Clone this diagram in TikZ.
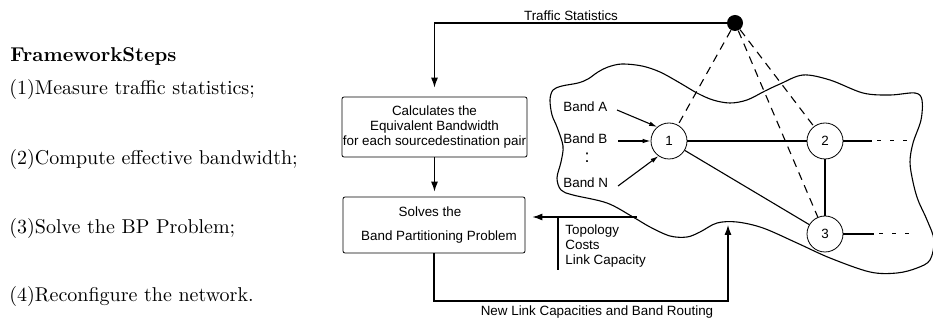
\documentclass[tikz,border=0pt]{standalone}
\usepackage{fontspec}
\setsansfont{Liberation Sans}
\usetikzlibrary{arrows.meta}
\begin{document}
\begin{tikzpicture}[x=0.5pt,y=-0.5pt,
  lbl/.style={font=\sffamily\fontsize{6.7}{7.7}\selectfont, inner sep=0pt},
  steptext/.style={anchor=base west, inner sep=0pt, font=\rmfamily\fontsize{10}{12}\selectfont},
  flowbox/.style={draw, rounded corners=1pt, lbl, align=center},
  netnode/.style={circle, draw, fill=white, minimum size=18pt, inner sep=0pt, lbl},
  probe/.style={circle, fill=black, minimum size=8pt, inner sep=0pt},
  link/.style={line width=0.55pt},
  flow/.style={-{Latex[length=5pt,width=3.5pt]}},
  bandflow/.style={-{Latex[length=4pt,width=2.3pt]}},
  feed/.style={dash pattern=on 4pt off 3pt},
  tail/.style={line width=0.5pt, dash pattern=on 2pt off 4.5pt}]
\useasboundingbox (0,0) rectangle (933,320);

% framework steps
\node[steptext] (title) at (10,62) {\textbf{FrameworkSteps}};
\node[steptext] (s1) at (9,95) {(1)Measure traffic statistics;};
\node[steptext] (s2) at (9,165) {(2)Compute effective bandwidth;};
\node[steptext] (s3) at (9,234) {(3)Solve the BP Problem;};
\node[steptext] (s4) at (9,302) {(4)Reconfigure the network.};

% network cloud
\draw[link] plot[smooth cycle, tension=0.55] coordinates {
  (550,100) (553,90) (562,86) (578,83) (588,79) (598,72) (608,67) (622,64)
  (642,66) (660,72) (680,83) (697,93) (713,100) (730,103) (747,100) (765,91)
  (780,84) (803,75) (830,80) (863,93) (890,95) (915,93) (922,100) (921,120)
  (913,143) (910,162) (913,182) (918,200) (927,220) (934,240) (930,260)
  (917,268) (897,273) (870,272) (830,258) (797,243) (763,228) (737,222)
  (717,223) (700,232) (687,237) (670,236) (650,227) (633,217) (607,203)
  (573,195) (561,190) (557,178) (561,162) (563,146) (557,127) (552,115)};

% network nodes
\node[probe] (dot) at (735,23) {};
\node[netnode] (n1) at (669,141) {1};
\node[netnode] (n2) at (825,141) {2};
\node[netnode] (n3) at (825,234) {3};

\draw[link] (n1) -- (n2);
\draw[link] (n1) -- (n3);
\draw[link] (n2) -- (n3);
\draw[link,feed] (dot) -- (n1);
\draw[link,feed] (dot) -- (n2);
\draw[link,feed] (dot) -- (n3);

\coordinate (t2a) at (872,141);
\coordinate (t2b) at (877,141);
\coordinate (t2c) at (910,141);
\coordinate (t3a) at (874,234);
\coordinate (t3b) at (879,234);
\coordinate (t3c) at (910,234);
\draw[link] (n2) -- (t2a);
\draw[link,tail] (t2b) -- (t2c);
\draw[link] (n3) -- (t3a);
\draw[link,tail] (t3b) -- (t3c);

% traffic bands
\node[lbl, anchor=west] (bandA) at (563,107) {Band A};
\node[lbl, anchor=west] (bandB) at (563,139) {Band B};
\node[lbl, font=\sffamily\fontsize{9}{9}\selectfont] (bdots) at (587,158) {:};
\node[lbl, anchor=west] (bandN) at (563,183) {Band N};
\coordinate (bandAtail) at (617,110);
\coordinate (bandBtail) at (618,141);
\coordinate (bandNtail) at (618,186);
\draw[link,bandflow] (bandAtail) -- (n1.130);
\draw[link,bandflow] (bandBtail) -- (n1.180);
\draw[link,bandflow] (bandNtail) -- (n1.235);

% control loop
\node[flowbox, minimum width=92.5pt, minimum height=30pt] (calc) at (434.5,127)
  {Calculates the\\Equivalent Bandwidth\\for each sourcedestination pair};
\node[flowbox, minimum width=91pt, minimum height=28pt] (solve) at (434,225)
  {Solves the\hspace*{4pt}\\[4.3pt]\hspace*{5pt}Band Partitioning Problem};

\draw[link,flow,shorten >=4.5pt] (dot) -| (calc.north);
\node[lbl] (trafficlbl) at (571,16) {Traffic Statistics};
\draw[link,flow,shorten >=2.5pt] (calc.south) -- (calc.south |- solve.north);

\coordinate (cloudW) at (637,217);
\draw[link,flow,shorten >=3.5pt] (cloudW) -- (cloudW -| solve.east);
\coordinate (tickTop) at (558,217);
\coordinate (tickBot) at (558,270);
\draw[link] (tickTop) -- (tickBot);
\node[lbl, align=left, anchor=north west, font=\sffamily\fontsize{6.7}{7.5}\selectfont] (topo) at (565,224)
  {Topology\\Costs\\Link Capacity};

\coordinate (cloudS) at (728,225);
\coordinate (routeCorner) at (728,301);
\draw[link,flow] (solve.south) |- (routeCorner) -- (cloudS);
\node[lbl] (routelbl) at (597,312) {New Link Capacities and Band Routing};
\end{tikzpicture}
\end{document}
